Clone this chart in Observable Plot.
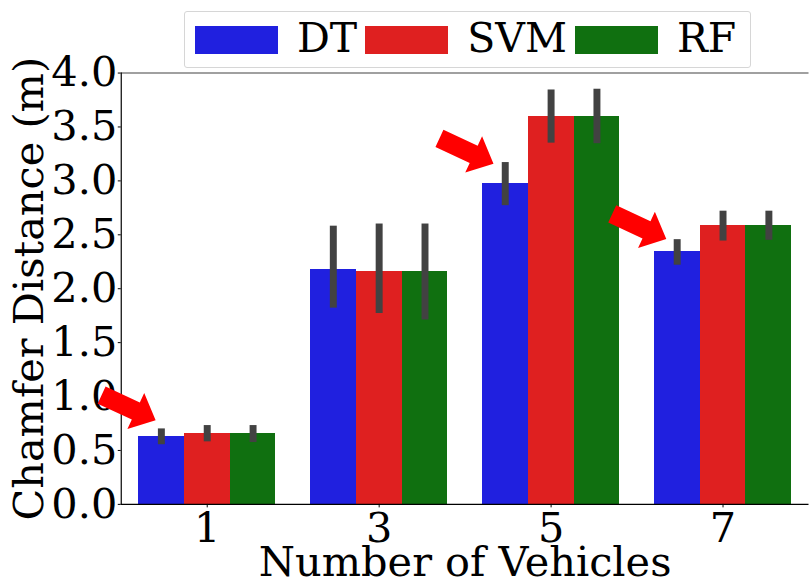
<!DOCTYPE html>
<html>
<head>
<meta charset="utf-8">
<script src="https://cdn.jsdelivr.net/npm/d3@7"></script>
<script src="https://cdn.jsdelivr.net/npm/@observablehq/plot@0.6"></script>
<style>
  html, body { margin: 0; padding: 0; background: #fff; }
  #wrap { position: relative; width: 809px; height: 585px; overflow: hidden; font-family: "DejaVu Serif", serif; }
  #chart { position: absolute; left: 0; top: 0; }
  #legend { position: absolute; left: 184px; top: 11px; width: 555px; height: 55px; border: 1px solid #d6d6d6; border-radius: 3px; background: rgba(255,255,255,0.85); display: flex; align-items: center; padding-left: 10px; box-sizing: content-box; font-size: 41px; color: #000; white-space: nowrap; }
  #legend .item { display: flex; align-items: center; margin-right: 8px; }
  #legend .sw { width: 83px; height: 28px; margin-right: 19px; }
  #legend .lab { line-height: 41px; position: relative; top: -1px; }
</style>
</head>
<body>
<div id="wrap">
  <div id="chart"></div>
  <div id="legend"></div>
</div>
<script>
// ---- data ----
const groups = ["1", "3", "5", "7"];
const series = ["DT", "SVM", "RF"];
const colors = ["#2020df", "#df2020", "#107010"];

const meanDT  = [0.627, 2.175, 2.977, 2.344];
const lowDT   = [0.553, 1.82, 2.77, 2.218];
const highDT  = [0.700, 2.58, 3.17, 2.455];

const meanSVM = [0.657, 2.157, 3.597, 2.583];
const lowSVM  = [0.580, 1.77, 3.35, 2.442];
const highSVM = [0.731, 2.60, 3.843, 2.719];

const meanRF  = [0.657, 2.157, 3.597, 2.583];
const lowRF   = [0.574, 1.71, 3.345, 2.449];
const highRF  = [0.731, 2.60, 3.85, 2.719];

const yTicks = [0, 0.5, 1, 1.5, 2, 2.5, 3, 3.5, 4];
const xLabel = "Number of Vehicles";
const yLabel = "Chamfer Distance (m)";

// annotation arrows (tip positions, in group-index / value units)
const arrowX = [-0.30, 1.665, 2.67];
const arrowY = [0.78, 3.16, 2.46];

// ---- build table ----
const means = [meanDT, meanSVM, meanRF];
const lows = [lowDT, lowSVM, lowRF];
const highs = [highDT, highSVM, highRF];
const groupWidth = 0.8;
const bw = groupWidth / series.length;
const rows = [];
groups.forEach((g, gi) => {
  series.forEach((s, si) => {
    const x1 = gi - groupWidth / 2 + si * bw;
    rows.push({g, s, x1, x2: x1 + bw, xc: x1 + bw / 2,
      mean: means[si][gi], lo: lows[si][gi], hi: highs[si][gi]});
  });
});
const arrows = arrowX.map((x, i) => ({x, y: arrowY[i]}));

const arrowShape = {
  draw(context, l) {
    const hl = 22, hw = 20, sw = 9.5;
    context.moveTo(-sw, 0);
    context.lineTo(-sw, -(l - hl));
    context.lineTo(-hw, -(l - hl));
    context.lineTo(0, -l);
    context.lineTo(hw, -(l - hl));
    context.lineTo(sw, -(l - hl));
    context.lineTo(sw, 0);
    context.closePath();
  }
};

const FS = 41.7;
const chart = Plot.plot({
  width: 814,
  height: 585,
  marginTop: 73,
  marginBottom: 78,
  marginLeft: 121.5,
  marginRight: 0.5,
  x: {domain: [-0.5, 3.5]},
  y: {domain: [0, 4]},
  color: {domain: series, range: colors},
  style: {fontFamily: "DejaVu Serif", fontSize: FS + "px", background: "#fff", overflow: "visible", color: "#000"},
  marks: [
    Plot.rect(rows, {x1: "x1", x2: "x2", y1: 0, y2: "mean", fill: "s", shapeRendering: "crispEdges"}),
    Plot.ruleX(rows, {x: "xc", y1: "lo", y2: "hi", stroke: "#424242", strokeWidth: 7}),
    Plot.axisY({ticks: yTicks, tickFormat: d => d.toFixed(1), tickSize: 3, tickPadding: 1, label: null, fontSize: FS}),
    Plot.axisX({ticks: [0, 1, 2, 3], tickFormat: i => groups[i], tickSize: 3.5, tickPadding: 4.5, label: null, fontSize: FS}),
    Plot.ruleY([4], {stroke: "#808080", strokeWidth: 1.5}),
    Plot.ruleY([0], {stroke: "#000", strokeWidth: 1.2}),
    Plot.ruleX([-0.5], {stroke: "#000", strokeWidth: 1.2}),
    Plot.text([yLabel], {text: d => d, frameAnchor: "left", rotate: -90, dx: -92, textAnchor: "middle", lineAnchor: "middle", fontSize: FS}),
    Plot.text([xLabel], {text: d => d, frameAnchor: "bottom", dy: 59, textAnchor: "middle", lineAnchor: "middle", fontSize: FS}),
    Plot.vector(arrows, {x: "x", y: "y", length: 60, rotate: 115, anchor: "end", shape: arrowShape, fill: "#ff0000", stroke: "none"})
  ]
});
document.getElementById("chart").appendChild(chart);

// legend
const legend = document.getElementById("legend");
series.forEach((s, i) => {
  const item = document.createElement("div");
  item.className = "item";
  const sw = document.createElement("div");
  sw.className = "sw";
  sw.style.background = colors[i];
  const lab = document.createElement("span");
  lab.className = "lab";
  lab.textContent = s;
  item.appendChild(sw);
  item.appendChild(lab);
  legend.appendChild(item);
});
</script>
</body>
</html>
